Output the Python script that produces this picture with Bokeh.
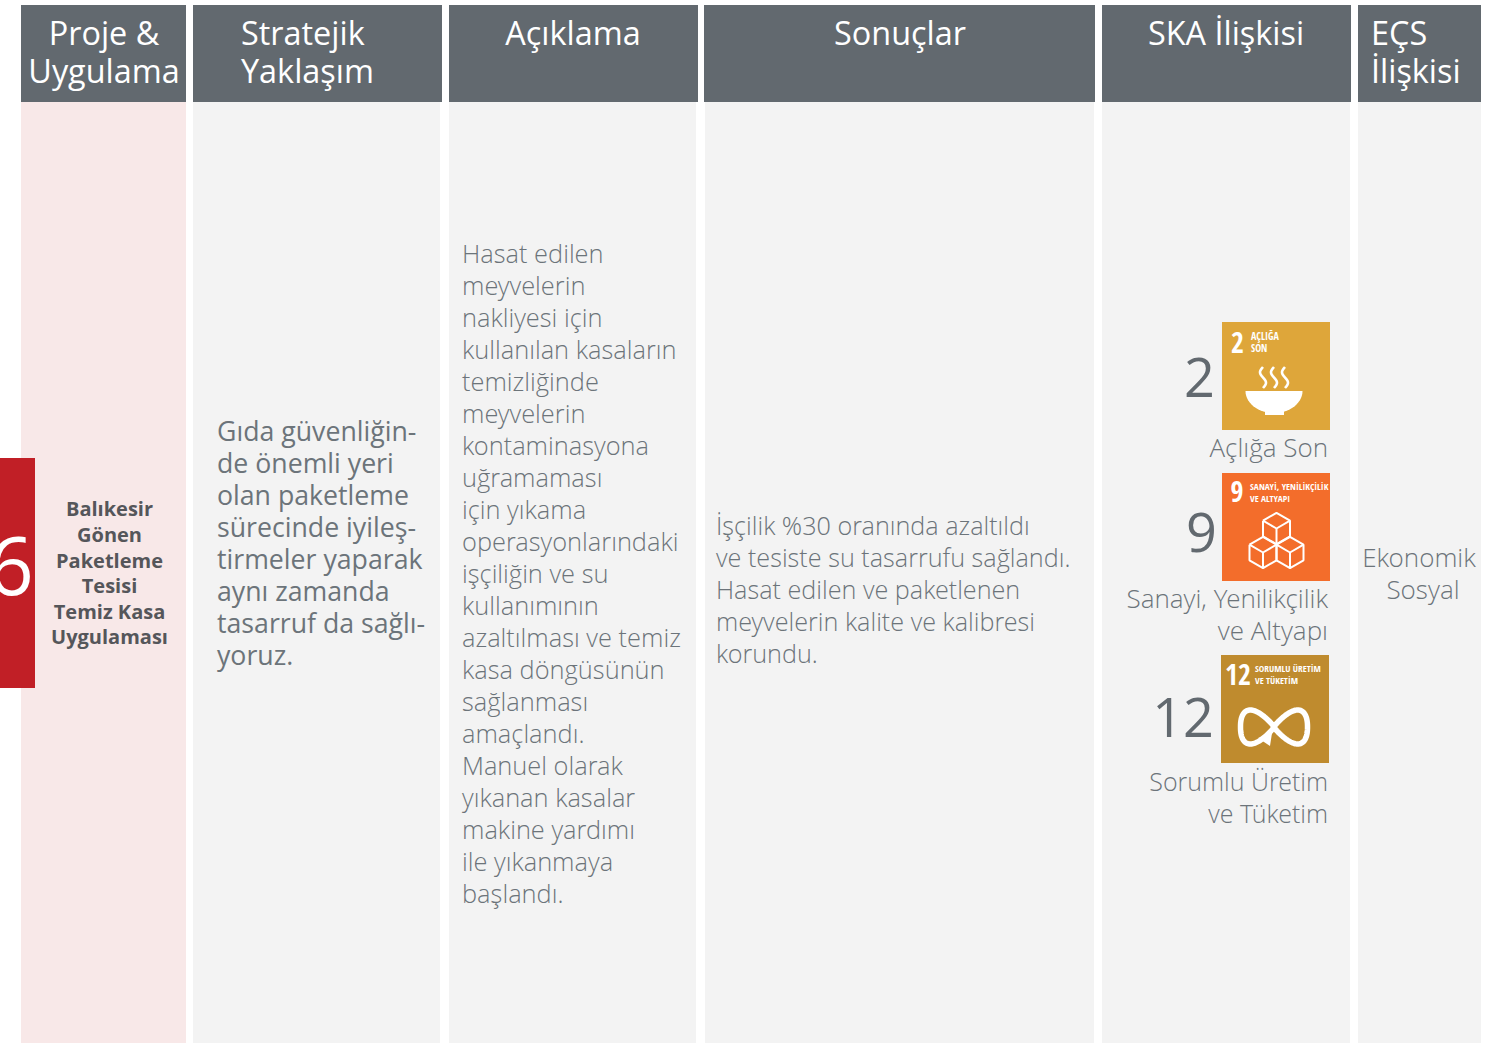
from bokeh.plotting import figure
from bokeh.embed import file_html
from bokeh.resources import INLINE
from bokeh.models import ColumnDataSource
from bokeh.core.properties import value
import numpy as np

# ---------- content ----------
headers = [["Proje &", "Uygulama"], ["Stratejik", "Yaklaşım"], ["Açıklama"], ["Sonuçlar"], ["SKA İlişkisi"], ["EÇS", "İlişkisi"]]
project = ["Balıkesir", "Gönen", "Paketleme", "Tesisi", "Temiz Kasa", "Uygulaması"]
strategy = ["Gıda güvenliğin-", "de önemli yeri", "olan paketleme", "sürecinde iyileş-", "tirmeler yaparak", "aynı zamanda", "tasarruf da sağlı-", "yoruz."]
description = ["Hasat edilen", "meyvelerin", "nakliyesi için", "kullanılan kasaların", "temizliğinde", "meyvelerin", "kontaminasyona", "uğramaması", "için yıkama", "operasyonlarındaki", "işçiliğin ve su", "kullanımının", "azaltılması ve temiz", "kasa döngüsünün", "sağlanması", "amaçlandı.", "Manuel olarak", "yıkanan kasalar", "makine yardımı", "ile yıkanmaya", "başlandı."]
results = ["İşçilik %30 oranında azaltıldı", "ve tesiste su tasarrufu sağlandı.", "Hasat edilen ve paketlenen", "meyvelerin kalite ve kalibresi", "korundu."]
ecs = ["Ekonomik", "Sosyal"]
sdg_numbers = ["2", "9", "12"]
sdg_labels = [["Açlığa Son"], ["Sanayi, Yenilikçilik", "ve Altyapı"], ["Sorumlu Üretim", "ve Tüketim"]]
sdg_icon_titles = [["AÇLIĞA", "SON"], ["SANAYİ, YENİLİKÇİLİK", "VE ALTYAPI"], ["SORUMLU ÜRETİM", "VE TÜKETİM"]]
row_number = "6"

# ---------- layout ----------
W, H = 1501, 1043
HEAD = "#62696f"; BODY = "#f3f3f3"; PINK = "#f8e8e8"; RED = "#c11f26"
TXT = "#6c747a"; DARK = "#55565a"
SDG_COL = ["#dea63a", "#f36d2b", "#bf8b2e"]
FONT = "Open Sans"
LIGHT = "Open Sans Light"
COND = "Open Sans Condensed"

p = figure(width=W + 2, height=H + 2, x_range=(-1.5, W + 0.5), y_range=(H + 0.5, -1.5), output_backend="svg",
           toolbar_location=None, min_border=0, outline_line_color=None,
           background_fill_color="white", border_fill_color="white",
           styles={"position": "absolute", "left": "-2px", "top": "-2px"})
p.axis.visible = False
p.grid.visible = False

def box(x0, x1, y0, y1, c):
    p.quad(left=[x0], right=[x1], top=[y0], bottom=[y1], fill_color=c, line_color=None)

def lines(items, x, y0, step, size, color=TXT, align="left", font=LIGHT, style="normal"):
    y0 = y0 - 0.41 * size
    src = ColumnDataSource(dict(x=[x] * len(items), y=[y0 + i * step for i in range(len(items))], t=items))
    p.text("x", "y", text="t", source=src, text_font=value(font), text_font_size=f"{size}px",
           text_color=color, text_align=align, text_baseline="alphabetic", text_font_style=style)

# columns
for (x0, x1), (b0, b1), c in zip(
        [(21, 186), (193, 442), (449, 698), (704, 1095), (1102, 1351), (1358, 1481)],
        [(21, 186), (193, 440), (449, 696), (705, 1094), (1102, 1350), (1358, 1481)],
        [PINK, BODY, BODY, BODY, BODY, BODY]):
    box(b0, b1, 102, H + 2, c)
    box(x0, x1, 5, 102, HEAD)

# headers
HF = 32.4
lines(headers[0], 104, 45.5, 38, HF, "white", "center", FONT)
lines(headers[1], 241, 45.5, 38, HF, "white", "left", FONT)
lines(headers[2], 573, 45.5, 38, HF, "white", "center", FONT)
lines(headers[3], 900, 45.5, 38, HF, "white", "center", FONT)
lines(headers[4], 1226, 45.5, 38, HF, "white", "center", FONT)
lines(headers[5], 1371, 45.5, 38, HF, "white", "left", FONT)

# red marker
box(-5, 35, 458, 688, RED)
lines([row_number], -12, 599, 0, 80, "white", "left", FONT)

# body text
lines(project, 109.5, 517, 25.6, 20, DARK, "center", FONT, "bold")
lines(strategy, 217, 441, 32, 26.7, TXT, "left", FONT)
lines(description, 462, 263, 32, 25.4)
lines(results, 716, 535, 32, 25.2)
lines(ecs[:1], 1419, 568, 32, 26, TXT, "center")
lines(ecs[1:], 1423, 600, 32, 26, TXT, "center")

# SDG block
icons = [(1222, 322), (1222, 473), (1221, 655)]
num_pos = [(1215, 400), (1217, 555), (1214, 740)]
label_pos = [(1328, 458), (1328, 609), (1328, 791)]
label_size = [26, 26, 25]
S = 108
for i in range(3):
    ix, iy = icons[i]
    box(ix, ix + S, iy, iy + S, SDG_COL[i])
    lines([sdg_numbers[i]], num_pos[i][0], num_pos[i][1], 0, 54, HEAD, "right", FONT)
    lines(sdg_labels[i], label_pos[i][0], label_pos[i][1], 32, label_size[i], TXT, "right")

# icon tiles: number + title
tile_num = [(1237.5, 354), (1237, 503), (1238, 686)]
tile_tit = [(1251, 340), (1250, 490), (1255, 672)]
tile_size = [10, 9.4, 9.3]
for i in range(3):
    lines([sdg_numbers[i]], tile_num[i][0], tile_num[i][1], 0, 28, "white", "center", COND, "bold")
    lines(sdg_icon_titles[i], tile_tit[i][0], tile_tit[i][1], 12.5, tile_size[i], "white", "left", COND, "bold")

# bowl
t = np.linspace(0, np.pi, 30)
p.patch(1274 + 28.5 * np.cos(t), 391 + 22 * np.sin(t), fill_color="white", line_color=None)
box(1265, 1284, 408, 415, "white")
for sx in (1263, 1274, 1285):
    yy = np.linspace(367, 388, 20)
    p.line(sx - 3 * np.sin((yy - 367) / 21 * 2 * np.pi), yy, line_color="white", line_width=2.6)

# cubes
def cube(cx, cy, r):
    h = r * 0.58
    xs = [[cx - r, cx, cx + r, cx + r, cx, cx - r, cx - r], [cx - r, cx, cx + r], [cx, cx]]
    ys = [[cy - h, cy - 2 * h, cy - h, cy + h, cy + 2 * h, cy + h, cy - h], [cy - h, cy, cy - h], [cy, cy + 2 * h]]
    p.multi_line(xs, ys, line_color="white", line_width=2)
for c in [(1276.5, 528.5), (1263, 552.5), (1290, 552.5)]:
    cube(c[0], c[1], 13.5)

# infinity
t = np.linspace(0, 2 * np.pi, 200)
s = np.sin(2 * t)
p.line(1274 + 33.5 * np.cos(t), 727 + 17 * np.sign(s) * np.abs(s) ** 0.85, line_color="white", line_width=5.5)
p.patch([1258, 1272, 1270], [738, 733, 746], fill_color="white", line_color=None)

open("out.html", "w").write(file_html(p, INLINE))
